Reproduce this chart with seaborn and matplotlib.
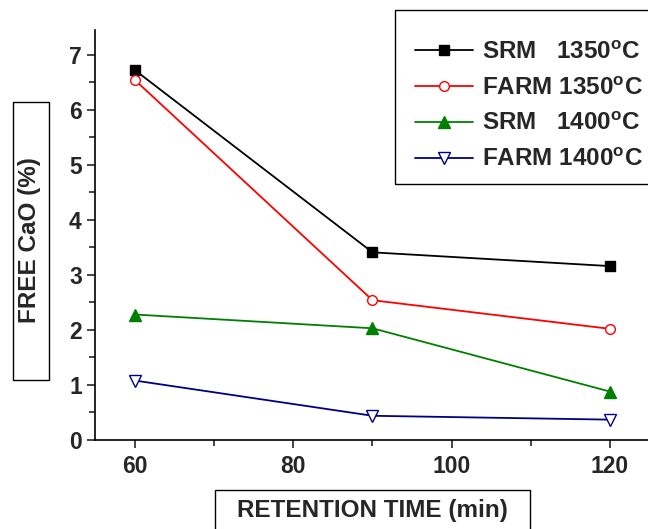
import matplotlib
matplotlib.use("Agg")
import matplotlib.pyplot as plt
import seaborn as sns
from matplotlib.patches import Rectangle
from matplotlib.ticker import MultipleLocator

# data
time_min = [60, 90, 120]
srm_1350 = [6.72, 3.41, 3.16]
farm_1350 = [6.54, 2.54, 2.02]
srm_1400 = [2.28, 2.03, 0.88]
farm_1400 = [1.08, 0.44, 0.37]

series_labels = [
    r"SRM   1350$^{\mathrm{o}}$C",
    r"FARM 1350$^{\mathrm{o}}$C",
    r"SRM   1400$^{\mathrm{o}}$C",
    r"FARM 1400$^{\mathrm{o}}$C",
]

sns.set_style("ticks")
plt.rcParams["font.family"] = ["Liberation Sans", "DejaVu Sans"]
plt.rcParams["font.weight"] = "bold"
plt.rcParams["mathtext.fontset"] = "custom"
plt.rcParams["mathtext.rm"] = "Liberation Sans"

fig = plt.figure(figsize=(6.48, 5.29), dpi=100)
ax = fig.add_axes([95 / 648, 1 - 440 / 529, 1 - 95 / 648, (440 - 30) / 529])

styles = [
    dict(color="black", marker="s", markerfacecolor="black", markeredgecolor="black", markersize=6.5),
    dict(color="#ff0000", marker="o", markerfacecolor="white", markeredgecolor="#ff0000", markersize=7),
    dict(color="#008000", marker="^", markerfacecolor="#008000", markeredgecolor="#008000", markersize=8),
    dict(color="#000080", marker="v", markerfacecolor="white", markeredgecolor="#000080", markersize=8),
]

for vals, lab, st in zip([srm_1350, farm_1350, srm_1400, farm_1400], series_labels, styles):
    sns.lineplot(x=time_min, y=vals, ax=ax, label=lab, linewidth=1.3,
                 markeredgewidth=1.0, **st)

ax.set_xlim(54.95, 124.8)
ax.set_ylim(0, 7.45)
ax.xaxis.set_major_locator(MultipleLocator(20))
ax.xaxis.set_minor_locator(MultipleLocator(10))
ax.yaxis.set_major_locator(MultipleLocator(1))
ax.yaxis.set_minor_locator(MultipleLocator(0.5))
ax.tick_params(which="major", direction="out", length=6, width=1.2, labelsize=16.5)
ax.tick_params(axis="x", which="major", pad=5)
ax.tick_params(axis="y", which="major", pad=3.5)
ax.tick_params(which="minor", direction="out", length=4, width=1.2)
for t in ax.get_xticklabels() + ax.get_yticklabels():
    t.set_fontweight("bold")
sns.despine(ax=ax)
for s in ["left", "bottom"]:
    ax.spines[s].set_linewidth(1.2)
    ax.spines[s].set_color("black")
ax.set_xlabel("")
ax.set_ylabel("")

# legend without its own frame; the frame is drawn separately to match the box
leg = ax.legend(loc="center left", bbox_to_anchor=(415 / 648, 1 - 106 / 529),
                bbox_transform=fig.transFigure, fontsize=17.5, frameon=False,
                handlelength=2.4, handletextpad=0.37,
                labelspacing=0.53, borderpad=0, borderaxespad=0)
for t in leg.get_texts():
    t.set_fontweight("bold")
fig.patches.append(Rectangle((395 / 648, 1 - 184 / 529), 0.5, 174 / 529,
                             transform=fig.transFigure, fill=False, edgecolor="black", linewidth=1.0))

# boxed axis titles
fig.patches.append(Rectangle((12.5 / 648, 1 - 380 / 529), 36 / 648, 278 / 529,
                             transform=fig.transFigure, fill=False, edgecolor="black", linewidth=1.0))
fig.text(30 / 648, 1 - 240 / 529, "FREE CaO (%)", rotation=90, ha="center", va="center",
         fontsize=17.5, fontweight="bold")
fig.patches.append(Rectangle((215 / 648, -0.01), 315 / 648, 1 - 490 / 529 + 0.01,
                             transform=fig.transFigure, fill=False, edgecolor="black", linewidth=1.0))
fig.text(372 / 648, 1 - 510 / 529, "RETENTION TIME (min)", ha="center", va="center",
         fontsize=17.5, fontweight="bold")

fig.savefig("out.png", dpi=100)
